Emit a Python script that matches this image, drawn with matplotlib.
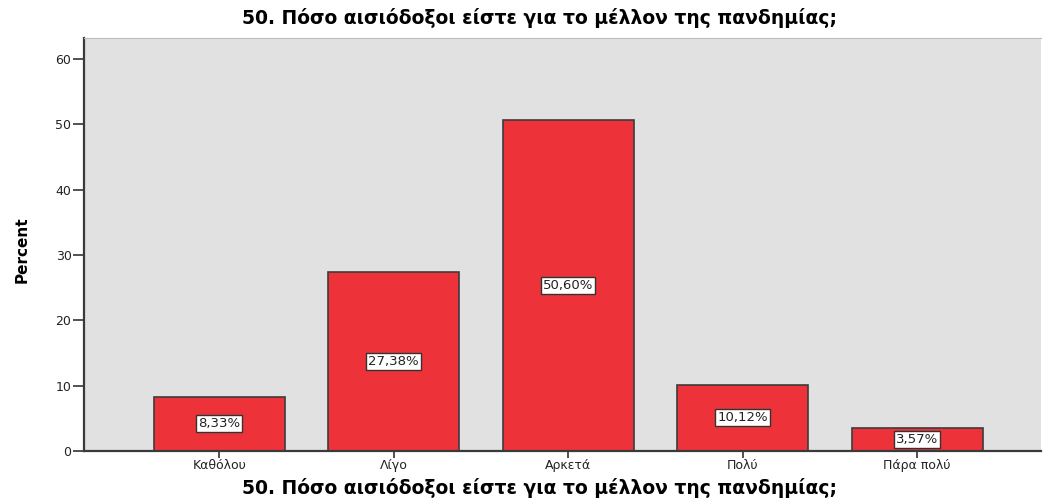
import matplotlib
matplotlib.use("Agg")
import matplotlib.pyplot as plt

plt.rcParams["font.family"] = ["DejaVu Sans"]

categories = ["Καθόλου", "Λίγο", "Αρκετά", "Πολύ", "Πάρα πολύ"]
percent = [8.33, 27.38, 50.60, 10.12, 3.57]
labels = ["8,33%", "27,38%", "50,60%", "10,12%", "3,57%"]
yticks = [0, 10, 20, 30, 40, 50, 60]

title = "50. Πόσο αισιόδοξοι είστε για το μέλλον της πανδημίας;"

fig = plt.figure(figsize=(10.44, 4.99), dpi=100)
ax = fig.add_axes([84 / 1044, 1 - 451 / 499, (1041 - 84) / 1044, (451 - 38) / 499])
ax.set_facecolor("#e1e1e1")

x = range(len(categories))
ax.bar(x, percent, width=0.75, color="#ee323a", edgecolor="#3c3c3c", linewidth=1.2, zorder=2)

for xi, v, lab in zip(x, percent, labels):
    ax.text(xi, v / 2, lab, ha="center", va="center", fontsize=9.5, color="#222222",
            bbox=dict(boxstyle="square,pad=0.15", facecolor="white", edgecolor="#333333", linewidth=1),
            zorder=3)

ax.set_xlim(-0.775, 4.71)
ax.set_ylim(0, 63.2)
ax.set_yticks(yticks)
ax.set_xticks(list(x))
ax.set_xticklabels(categories, fontsize=9, color="#222222")
ax.tick_params(axis="y", length=8, width=1.2, labelsize=9, color="#333333", labelcolor="#222222", pad=1)
ax.tick_params(axis="x", length=5, width=1.2, color="#333333", pad=1)

for s in ["left", "bottom"]:
    ax.spines[s].set_color("#3a3a3a")
    ax.spines[s].set_linewidth(1.6)
ax.spines["top"].set_color("#bdbdbd")
ax.spines["right"].set_visible(False)

fig.text(539 / 1044, 1 - 18 / 499, title, ha="center", va="center", fontsize=13.5, fontweight="bold")
fig.text(539 / 1044, 1 - 488 / 499, title, ha="center", va="center", fontsize=13.5, fontweight="bold")
fig.text(22 / 1044, 1 - 250 / 499, "Percent", ha="center", va="center", rotation=90,
         fontsize=11, fontweight="bold", family=["Liberation Sans Narrow", "DejaVu Sans"])

fig.savefig("out.png", dpi=100)
